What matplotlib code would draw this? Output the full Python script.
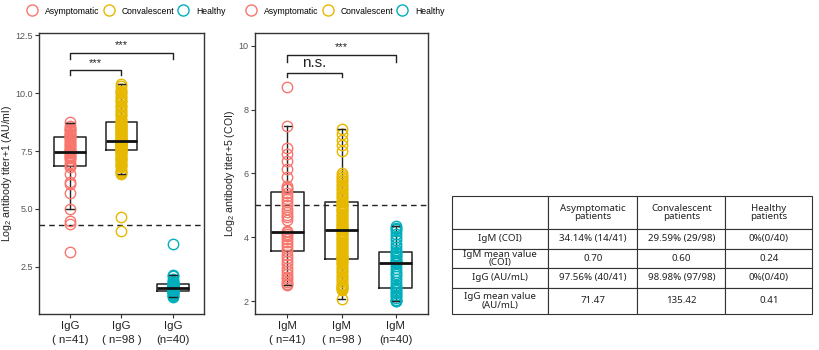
import matplotlib
matplotlib.use("Agg")
import matplotlib.pyplot as plt
from matplotlib.lines import Line2D

plt.rcParams['font.family'] = ['Liberation Sans', 'DejaVu Sans']
plt.rcParams['mathtext.fontset'] = 'custom'
plt.rcParams['mathtext.rm'] = 'Liberation Sans'

groups = ['Asymptomatic', 'Convalescent', 'Healthy']
colors = ['#F8766D', '#E7B800', '#00AFBB']

# IgG (log2 titer + 1)
igg_asym = [3.15, 4.35, 4.5, 5.0, 5.7, 6.1, 6.15, 6.5, 6.8, 6.9, 7.0, 7.1, 7.2, 7.25, 7.3,
            7.35, 7.4, 7.45, 7.45, 7.5, 7.55, 7.6, 7.65, 7.7, 7.75, 7.8, 7.9, 7.95, 8.0, 8.05,
            8.1, 8.15, 8.2, 8.25, 8.3, 8.35, 8.4, 8.45, 8.5, 8.6, 8.75]
igg_conv = [4.05, 4.65, 6.5, 6.55, 6.6, 6.65, 6.7, 6.8, 6.85, 6.9, 6.95, 7.0, 7.05, 7.1, 7.15,
            7.2, 7.25, 7.3, 7.35, 7.4, 7.42, 7.45, 7.5, 7.52,
            7.55, 7.57, 7.6, 7.62, 7.64, 7.66, 7.68, 7.7, 7.72, 7.74, 7.76, 7.78, 7.8, 7.81, 7.82,
            7.84, 7.85, 7.86, 7.88, 7.89, 7.9, 7.91, 7.92, 7.93, 7.94,
            7.96, 7.98, 8.0, 8.05, 8.08, 8.1, 8.15, 8.18, 8.2, 8.25, 8.28, 8.3, 8.35, 8.38, 8.4,
            8.45, 8.48, 8.5, 8.55, 8.58, 8.6, 8.64, 8.68, 8.7, 8.74,
            8.8, 8.85, 8.9, 9.0, 9.05, 9.1, 9.2, 9.25, 9.3, 9.4, 9.45, 9.5, 9.6, 9.65, 9.7,
            9.8, 9.85, 9.9, 10.0, 10.05, 10.1, 10.2, 10.3, 10.4]
igg_healthy = [1.2, 1.25, 1.3, 1.35, 1.38, 1.4, 1.42, 1.44, 1.45, 1.46, 1.48, 1.5, 1.52, 1.54,
               1.55, 1.56, 1.58, 1.59, 1.6, 1.6, 1.61, 1.62, 1.63, 1.64, 1.65, 1.66, 1.68, 1.7,
               1.72, 1.74, 1.75, 1.76, 1.78, 1.8, 1.85, 1.9, 2.0, 2.1, 2.15, 3.5]

# IgM (log2 titer + 5)
igm_asym = [8.7, 7.47, 6.8, 6.6, 6.4, 6.15, 5.9, 5.6, 5.55, 5.5, 5.4, 5.3, 5.2, 5.1, 5.0, 4.9,
            4.8, 4.7, 4.65, 4.55, 4.2, 4.16, 4.1, 4.05, 3.95, 3.85, 3.75, 3.65, 3.56, 3.45,
            3.35, 3.25, 3.15, 3.05, 2.95, 2.85, 2.75, 2.7, 2.6, 2.55, 2.5]
igm_conv = [7.4, 7.25, 7.05, 6.9, 6.7,
            6.0, 5.95, 5.9, 5.85, 5.8, 5.75, 5.7, 5.65, 5.6, 5.55, 5.5, 5.45, 5.4, 5.35, 5.3,
            5.25, 5.2, 5.15, 5.12, 5.1,
            5.05, 5.0, 4.97, 4.93, 4.9, 4.86, 4.82, 4.78, 4.74, 4.7, 4.66, 4.62, 4.58, 4.54, 4.5,
            4.46, 4.42, 4.38, 4.34, 4.31, 4.28, 4.26, 4.24, 4.22,
            4.18, 4.14, 4.1, 4.06, 4.02, 3.98, 3.94, 3.9, 3.86, 3.82, 3.78, 3.74, 3.7, 3.66,
            3.62, 3.58, 3.54, 3.5, 3.46, 3.42, 3.39, 3.37, 3.35, 3.33, 3.31,
            3.28, 3.24, 3.2, 3.15, 3.1, 3.05, 3.0, 2.95, 2.9, 2.85, 2.8, 2.75, 2.7, 2.65, 2.6,
            2.55, 2.5, 2.47, 2.44, 2.42, 2.4, 2.38, 2.35, 2.06]
igm_healthy = [4.34, 4.3, 4.25, 4.2, 4.1, 4.0, 3.9, 3.8, 3.7, 3.6, 3.55, 3.5, 3.45, 3.4, 3.35,
               3.3, 3.25, 3.22, 3.2, 3.18, 3.1, 3.0, 2.9, 2.85, 2.8, 2.7, 2.6, 2.5, 2.45, 2.42,
               2.4, 2.35, 2.3, 2.25, 2.2, 2.15, 2.1, 2.05, 2.02, 2.0]

# box statistics as drawn in the figure
igg_q1 = [6.85, 7.54, 1.45]
igg_med = [7.46, 7.95, 1.6]
igg_q3 = [8.1, 8.75, 1.75]
igg_lo = [5.0, 6.5, 1.2]
igg_hi = [8.7, 10.4, 2.15]

igm_q1 = [3.56, 3.31, 2.4]
igm_med = [4.16, 4.22, 3.2]
igm_q3 = [5.41, 5.09, 3.53]
igm_lo = [2.5, 2.06, 2.0]
igm_hi = [7.47, 7.4, 4.34]

igg_labels = ['IgG\n( n=41)', 'IgG\n( n=98 )', 'IgG\n(n=40)']
igm_labels = ['IgM\n( n=41)', 'IgM\n( n=98 )', 'IgM\n(n=40)']
igg_cutoff = 4.31
igm_cutoff = 5.0

table_cols = ['', 'Asymptomatic\npatients', 'Convalescent\npatients', 'Healthy\npatients']
table_rows = [
    ['IgM (COI)', '34.14% (14/41)', '29.59% (29/98)', '0%(0/40)'],
    ['IgM mean value\n(COI)', '0.70', '0.60', '0.24'],
    ['IgG (AU/mL)', '97.56% (40/41)', '98.98% (97/98)', '0%(0/40)'],
    ['IgG mean value\n(AU/mL)', '71.47', '135.42', '0.41'],
]


def panel(ax, data, q1, med, q3, lo, hi, labels, cutoff, ylim, yticks, ylabel, legx, labx):
    stats = []
    for i in range(3):
        stats.append(dict(q1=q1[i], med=med[i], q3=q3[i], whislo=lo[i], whishi=hi[i], fliers=[]))
    ax.bxp(stats, positions=[1, 2, 3], widths=0.62, showfliers=False, patch_artist=False,
           boxprops=dict(color='#222222', lw=1.1),
           medianprops=dict(color='#111111', lw=2.0, zorder=4),
           whiskerprops=dict(color='#222222', lw=1.0),
           capprops=dict(color='#222222', lw=1.0, zorder=4), capwidths=0.14)
    for i, vals in enumerate(data):
        ax.plot([i + 1] * len(vals), vals, 'o', ms=7.5, mfc='none', mec=colors[i], mew=1.0,
                zorder=3)
    ax.axhline(cutoff, color='#222222', ls=(0, (4, 3)), lw=1.0, zorder=1)
    ax.set_xlim(0.4, 3.6)
    ax.set_ylim(*ylim)
    ax.set_yticks(yticks)
    ax.set_xticks([1, 2, 3])
    ax.set_xticklabels(labels, fontsize=8.2, color='#222222', linespacing=1.5)
    ax.tick_params(axis='y', labelsize=6.5, labelcolor='#555555', length=3, pad=1.5,
                   color='#333333')
    ax.tick_params(axis='x', length=3, pad=2, color='#333333')
    ax.set_ylabel(ylabel, fontsize=7.6, color='#222222')
    ax.yaxis.set_label_coords(labx, 0.5)
    for s in ax.spines.values():
        s.set_color('#333333')
        s.set_linewidth(1.0)
    ax.legend(handles=[Line2D([], [], marker='o', ls='none', ms=8, mfc='none', mec=c, mew=1.0)
                       for c in colors], labels=groups, ncol=3, frameon=False,
              loc='center left', bbox_to_anchor=(legx, 1 - 11 / 350),
              bbox_transform=plt.gcf().transFigure, fontsize=6.2, handlelength=1.2,
              handletextpad=0.9, columnspacing=0.45, borderpad=0, borderaxespad=0)


def bracket(ax, x1, x2, y, drop, text, ty, fs=9):
    ax.plot([x1, x1, x2, x2], [y - drop, y, y, y - drop], color='#222222', lw=1.0)
    ax.text((x1 + x2) / 2, ty, text, ha='center', va='center', fontsize=fs, color='#222222')


fig = plt.figure(figsize=(8.19, 3.5), dpi=100)
ax1 = fig.add_axes([0.0476, 0.103, 0.2015, 0.803])
ax2 = fig.add_axes([0.3114, 0.103, 0.2112, 0.803])

panel(ax1, [igg_asym, igg_conv, igg_healthy], igg_q1, igg_med, igg_q3, igg_lo, igg_hi,
      igg_labels, igg_cutoff, (0.47, 12.6), [2.5, 5.0, 7.5, 10.0, 12.5],
      'Log$_2$ antibody titer+1 (AU/ml)', 27 / 819, -0.152)
ax1.set_yticklabels(['2.5', '5.0', '7.5', '10.0', '12.5'])
bracket(ax1, 1, 3, 11.72, 0.26, '***', 12.07, fs=8)
bracket(ax1, 1, 2, 11.0, 0.22, '***', 11.3, fs=8)

panel(ax2, [igm_asym, igm_conv, igm_healthy], igm_q1, igm_med, igm_q3, igm_lo, igm_hi,
      igm_labels, igm_cutoff, (1.6, 10.4), [2, 4, 6, 8, 10],
      'Log$_2$ antibody titer+5 (COI)', 246 / 819, -0.104)
bracket(ax2, 1, 3, 9.72, 0.22, '***', 9.97, fs=8)
bracket(ax2, 1, 2, 9.16, 0.14, 'n.s.', 9.46, fs=11)

# summary table
axt = fig.add_axes([0.552, 0.103, 0.44, 0.337])
axt.axis('off')
tbl = axt.table(cellText=table_rows, colLabels=table_cols, cellLoc='center',
                colWidths=[96 / 360, 89 / 360, 88 / 360, 87 / 360], bbox=[0, 0, 1, 1])
tbl.auto_set_font_size(False)
heights = [33, 20, 19, 20, 26]
for (r, c), cell in tbl.get_celld().items():
    cell.set_height(heights[r] / 118)
    cell.set_linewidth(0.8)
    cell.set_edgecolor('#333333')
    cell.get_text().set_fontsize(7.0)
    cell.get_text().set_fontfamily(['Noto Sans', 'DejaVu Sans'])
    cell.get_text().set_color('#222222')
    cell.get_text().set_linespacing(0.9)

fig.savefig('out.png', dpi=100)
